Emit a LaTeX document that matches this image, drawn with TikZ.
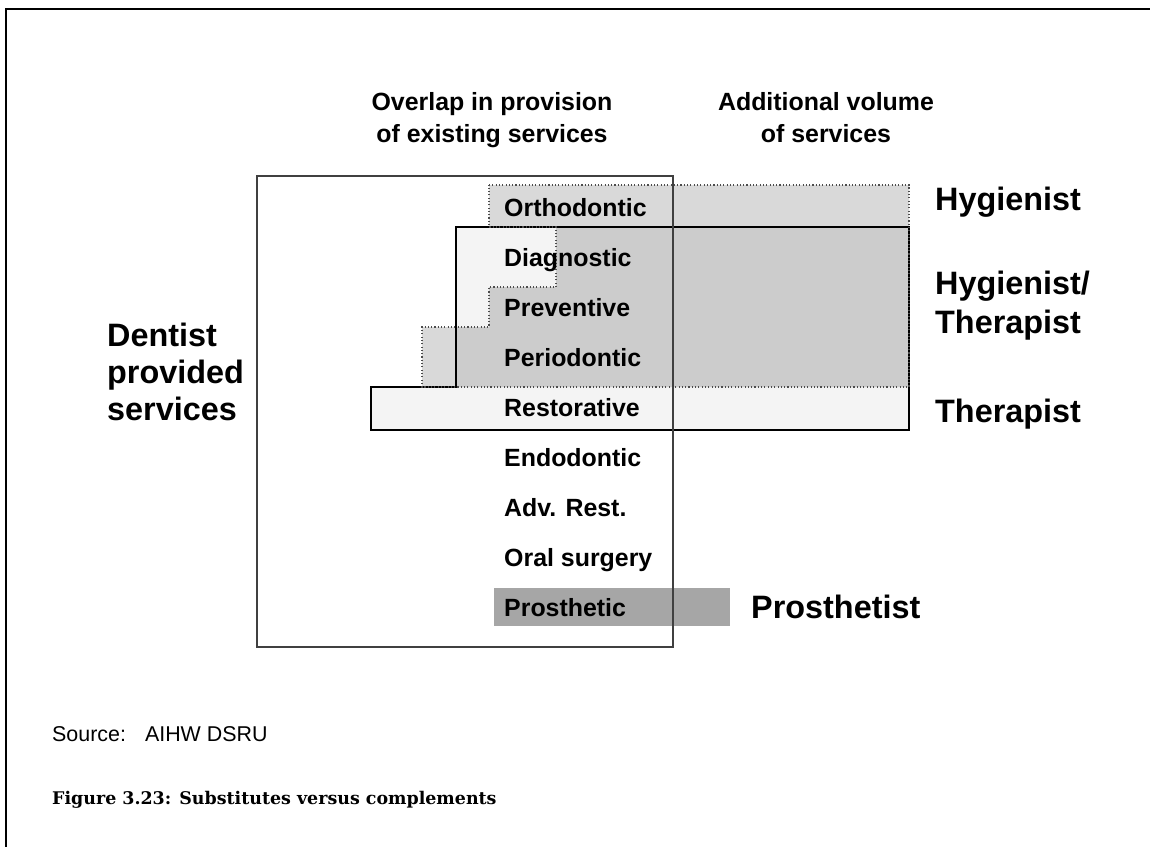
\documentclass[tikz,border=0pt]{standalone}
\usepackage{fontspec}
\setmainfont{Liberation Sans}
\newfontfamily\capfont{DejaVu Serif}
\definecolor{hyg}{HTML}{D9D9D9}
\definecolor{ther}{HTML}{F4F4F4}
\definecolor{both}{HTML}{CCCCCC}
\definecolor{pros}{HTML}{A6A6A6}
\definecolor{boxc}{HTML}{404040}
\begin{document}
\begin{tikzpicture}[x=1bp,y=-1bp,
  rowlbl/.style={anchor=base west,inner sep=0pt,font=\bfseries\fontsize{25}{30}\selectfont},
  biglbl/.style={anchor=base west,inner sep=0pt,font=\bfseries\fontsize{32.5}{39}\selectfont},
  headlbl/.style={anchor=base,inner sep=0pt,font=\bfseries\fontsize{25}{32}\selectfont},
  dotline/.style={draw=black!70,line width=1.1bp,dash pattern=on 1.1bp off 2.2bp},
  solidline/.style={draw=black,line width=1.3bp}]
\useasboundingbox (0,0) rectangle (1150,847);
% page frame
\draw[line width=2.3bp,line cap=rect] (6,847) -- (6,9) -- (1150,9);
% shapes
\def\hygpath{(489,185) -- (909,185) -- (909,387) -- (422,387) -- (422,327) -- (489,327) -- (489,287) -- (556,287) -- (556,227) -- (489,227) -- cycle}
\def\therpath{(456,227) -- (909,227) -- (909,430) -- (371,430) -- (371,387) -- (456,387) -- cycle}
\fill[hyg] \hygpath;
\fill[ther] \therpath;
\begin{scope}
  \clip \hygpath;
  \fill[both] \therpath;
\end{scope}
\draw[solidline] \therpath;
\draw[dotline] \hygpath;
\fill[pros] (494,588) rectangle (730,626);
% dentist box
\draw[boxc,line width=2.6bp] (257,176) rectangle (673,647);
% headers
\node[headlbl] (h1a) at (492,110) {Overlap in provision};
\node[headlbl] (h1b) at (492,142) {of existing services};
\node[headlbl] (h2a) at (826,110) {Additional volume};
\node[headlbl] (h2b) at (826,142) {of services};
% rows
\node[rowlbl] (r1) at (504,216) {Orthodontic};
\node[rowlbl] (r2) at (504,266) {Diagnostic};
\node[rowlbl] (r3) at (504,316) {Preventive};
\node[rowlbl] (r4) at (504,366) {Periodontic};
\node[rowlbl] (r5) at (504,416) {Restorative};
\node[rowlbl] (r6) at (504,466) {Endodontic};
\node[rowlbl] (r7) at (504,516) {Adv. Rest.};
\node[rowlbl] (r8) at (504,566) {Oral surgery};
\node[rowlbl] (r9) at (504,616) {Prosthetic};
% providers
\node[biglbl] (p1) at (935,210) {Hygienist};
\node[biglbl] (p2) at (935,294) {Hygienist/};
\node[biglbl] (p3) at (935,333) {Therapist};
\node[biglbl] (p4) at (935,422) {Therapist};
\node[biglbl] (p5) at (751,618) {Prosthetist};
\node[biglbl] (d1) at (107,346) {Dentist};
\node[biglbl] (d2) at (107,383) {provided};
\node[biglbl] (d3) at (107,420) {services};
% source and caption
\node[anchor=base west,inner sep=0pt,font=\fontsize{21.5}{26}\selectfont] (src) at (52,741) {Source:\hspace{19bp}AIHW DSRU};
\node[anchor=base west,inner sep=0pt,font=\capfont\bfseries\fontsize{17.5}{22}\selectfont] (cap) at (52,804) {Figure 3.23: Substitutes versus complements};
\end{tikzpicture}
\end{document}
